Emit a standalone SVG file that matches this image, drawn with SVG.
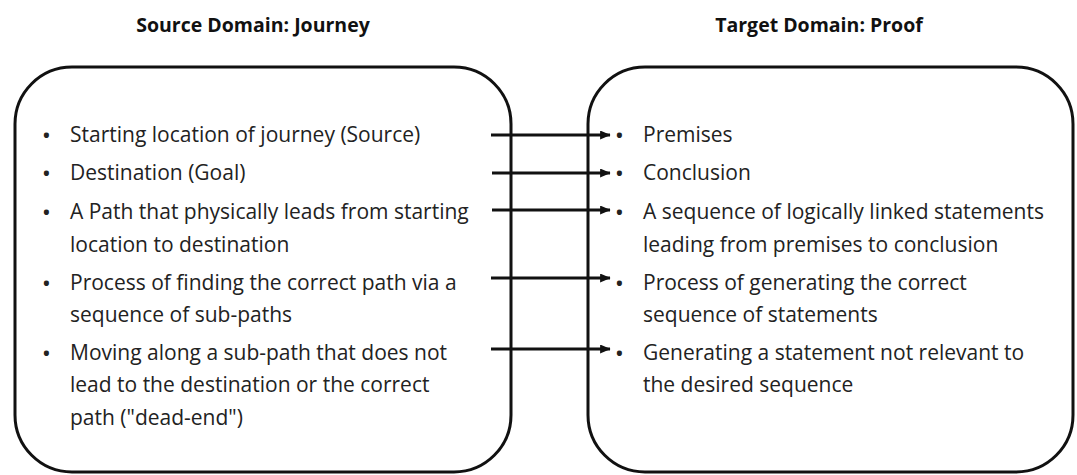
<svg xmlns="http://www.w3.org/2000/svg" width="1077" height="475" viewBox="0 0 1077 475">
<style>
.t{font-family:"Open Sans","Liberation Sans",sans-serif;font-size:21px;fill:#222}
.b{font-family:"Open Sans","Liberation Sans",sans-serif;font-size:18px;font-weight:bold;fill:#222}
.h{font-family:"Open Sans","Liberation Sans",sans-serif;font-size:19.5px;font-weight:bold;fill:#111}
.box{fill:none;stroke:#111;stroke-width:3}
.c{stroke:#111;stroke-width:3;fill:none}
</style>
<defs>
<marker id="ah" markerWidth="4" markerHeight="4" refX="3.3" refY="1.5" orient="auto" markerUnits="strokeWidth">
<path d="M0,0 L3.5,1.5 L0,3 Z" fill="#111"/>
</marker>
</defs>
<rect width="1077" height="475" fill="#fff"/>
<text class="h" x="253" y="32" text-anchor="middle">Source Domain: Journey</text>
<text class="h" x="819" y="32" text-anchor="middle">Target Domain: Proof</text>
<g id="source">
<rect class="box" x="15" y="67" width="496" height="405" rx="57" ry="57"/>
<g class="b">
<text x="43" y="142">•</text>
<text x="43" y="180">•</text>
<text x="43" y="219">•</text>
<text x="43" y="290">•</text>
<text x="43" y="360">•</text>
</g>
<g class="t">
<text x="70" y="142">Starting location of journey (Source)</text>
<text x="70" y="180">Destination (Goal)</text>
<text x="70" y="219">A Path that physically leads from starting</text>
<text x="70" y="252">location to destination</text>
<text x="70" y="290">Process of finding the correct path via a</text>
<text x="70" y="322">sequence of sub-paths</text>
<text x="70" y="360">Moving along a sub-path that does not</text>
<text x="70" y="392">lead to the destination or the correct</text>
<text x="70" y="425">path ("dead-end")</text>
</g>
</g>
<g id="target">
<rect class="box" x="588" y="67" width="485" height="405" rx="57" ry="57"/>
<g class="b">
<text x="616" y="142">•</text>
<text x="616" y="180">•</text>
<text x="616" y="219">•</text>
<text x="616" y="290">•</text>
<text x="616" y="360">•</text>
</g>
<g class="t">
<text x="643" y="142">Premises</text>
<text x="643" y="180">Conclusion</text>
<text x="643" y="219">A sequence of logically linked statements</text>
<text x="643" y="252">leading from premises to conclusion</text>
<text x="643" y="290">Process of generating the correct</text>
<text x="643" y="322">sequence of statements</text>
<text x="643" y="360">Generating a statement not relevant to</text>
<text x="643" y="392">the desired sequence</text>
</g>
</g>
<g id="connectors">
<line class="c" x1="491" y1="135" x2="610" y2="135" marker-end="url(#ah)"/>
<line class="c" x1="492" y1="173" x2="610" y2="173" marker-end="url(#ah)"/>
<line class="c" x1="492" y1="210" x2="610" y2="210" marker-end="url(#ah)"/>
<line class="c" x1="491" y1="278" x2="610" y2="278" marker-end="url(#ah)"/>
<line class="c" x1="491" y1="349" x2="610" y2="349" marker-end="url(#ah)"/>
</g>
</svg>
